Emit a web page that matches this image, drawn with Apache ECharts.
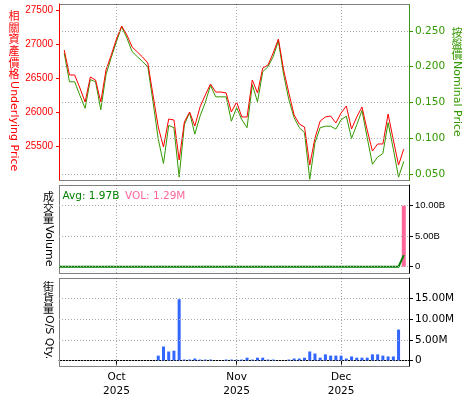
<!DOCTYPE html>
<html><head><meta charset="utf-8">
<script src="https://cdn.jsdelivr.net/npm/echarts@6/dist/echarts.min.js"></script>
<style>html,body{margin:0;padding:0;background:#fff}#c{width:475px;height:400px}</style>
</head><body><div id="c"></div>
<script>
// Trading (weekday) categories
const dates = [
 '2025-09-16','2025-09-17','2025-09-18','2025-09-19','2025-09-22','2025-09-23','2025-09-24','2025-09-25','2025-09-26','2025-09-29','2025-09-30',
 '2025-10-01','2025-10-02','2025-10-03','2025-10-06','2025-10-07','2025-10-08','2025-10-09','2025-10-10','2025-10-13','2025-10-14','2025-10-15','2025-10-16','2025-10-17','2025-10-20','2025-10-21','2025-10-22','2025-10-23','2025-10-24','2025-10-27','2025-10-28','2025-10-29','2025-10-30','2025-10-31',
 '2025-11-03','2025-11-04','2025-11-05','2025-11-06','2025-11-07','2025-11-10','2025-11-11','2025-11-12','2025-11-13','2025-11-14','2025-11-17','2025-11-18','2025-11-19','2025-11-20','2025-11-21','2025-11-24','2025-11-25','2025-11-26','2025-11-27','2025-11-28',
 '2025-12-01','2025-12-02','2025-12-03','2025-12-04','2025-12-05','2025-12-08','2025-12-09','2025-12-10','2025-12-11','2025-12-12','2025-12-15','2025-12-16','2025-12-17','2025-12-18'
];
// 相關資產價格 Underlying Price
const underlying = [
 null, 26915, 26549, 26549, 26359, 26154, 26520, 26476, 26154, 26622, 26842,
 27076, 27266, 27134, 26959, 26886, 26812, 26725, 26256, 25788, 25496, 25905, 25891, 25306, 25861, 26008, 25803, 26081, 26256, 26417, 26300, 26300, 26286, 26008,
 26154, 25935, 25935, 26476, 26286, 26651, 26695, 26871, 27076, 26622, 26286, 25964, 25832, 25788, 25232, 25627, 25876, 25935, 25949, 25847,
 25993, 26096, 25759, 25935, 26081, 25744, 25437, 25540, 25540, 25978, 25598, 25232, 25466, null
];
// 按盤價 Nominal Price
const nominal = [
 null, 0.219, 0.179, 0.179, 0.160, 0.142, 0.182, 0.179, 0.140, 0.189, 0.213,
 0.235, 0.256, 0.240, 0.221, 0.214, 0.207, 0.200, 0.151, 0.099, 0.065, 0.118, 0.115, 0.046, 0.119, 0.136, 0.106, 0.131, 0.150, 0.174, 0.158, 0.158, 0.158, 0.124,
 0.143, 0.126, 0.115, 0.175, 0.151, 0.193, 0.200, 0.214, 0.236, 0.189, 0.154, 0.129, 0.115, 0.108, 0.043, 0.094, 0.115, 0.117, 0.117, 0.113,
 0.126, 0.131, 0.100, 0.119, 0.139, 0.101, 0.064, 0.074, 0.079, 0.122, 0.085, 0.046, 0.068, null
];
// Avg turnover line (B)
const avgTurnover = [
 0,0,0,0,0,0,0,0,0,0,0,
 0,0,0,0,0,0,0,0,0,0,0,0,0,0,0,0,0,0,0,0,0,0,0,
 0,0,0,0,0,0,0,0,0,0,0,0,0,0,0,0,0,0,0,0,
 0,0,0,0,0,0,0,0,0,0,0,0,1.9,null
];
// 成交量 Volume bars (B)
const turnover = [
 null,null,null,null,null,null,null,null,null,null,null,
 null,null,null,null,null,null,null,null,null,null,null,null,null,null,null,null,null,null,null,null,null,null,null,
 null,null,null,null,null,null,null,null,null,null,null,null,null,null,null,null,null,null,null,null,
 null,null,null,null,null,null,null,null,null,null,null,null,10.0,null
];
// 街貨量 O/S Qty. (M)
const osQty = [
 null,null,null,null,null,null,null,null,null,null,null,
 null,null,null,null,null,null,null,null,1.2,3.4,2.2,2.4,14.85,0.25,0.25,0.5,0.25,0.25,0.25,null,null,0.25,0.25,
 0.2,0.25,0.7,0.25,0.7,0.7,0.25,0.25,null,null,0.25,0.5,0.5,0.7,2.2,1.7,0.7,1.5,1.2,1.2,
 1.2,0.5,1.0,0.7,0.7,0.7,1.5,1.5,1.2,1.0,1.0,7.5,null,null
];
const monthTicks = ['2025-10-01','2025-11-03','2025-12-01'];
const monthLabels = ['Oct\n2025','Nov\n2025','Dec\n2025'];
const priceTicks = [25500,26000,26500,27000,27500];
const nominalTicks = [0.05,0.10,0.15,0.20,0.25];
const volumeTicks = [0,5,10];
const osTicks = [0,5,10,15];

const L = 59, W = 350;
const panels = [{top:4,height:176},{top:185,height:88},{top:278,height:88}];
const RED = '#ff0000', GRN = '#339900';
const gridLine = {show:true, lineStyle:{color:'#aaaaaa', width:1, type:[1,2]}};
const isMonth = (i, v) => monthTicks.indexOf(v) >= 0;

function xAx(gi, showLabels){
  return {
    type:'category', gridIndex:gi, data:dates, boundaryGap:false,
    axisLine:{show:showLabels, lineStyle:{color:'#000', width:1}},
    axisTick:{show:showLabels, interval:isMonth, length:4, lineStyle:{color:'#000'}},
    axisLabel:{show:showLabels, interval:isMonth, margin:5, color:'#000', fontFamily:'DejaVu Sans', fontSize:10.5, lineHeight:13.5,
      formatter:(v)=>{const k=monthTicks.indexOf(v); return k>=0?monthLabels[k]:'';}},
    splitLine:{show:true, interval:isMonth, lineStyle:{color:'#aaaaaa', width:1, type:[1,2]}}
  };
}

const graphic = [];
panels.forEach(p => graphic.push({type:'rect', silent:true, z:1,
  shape:{x:L+0.5, y:p.top+0.5, width:W, height:p.height},
  style:{fill:null, stroke:'#000', lineWidth:1, lineDash:[1,1]}}));
function vTitle(x, y, cjk, latin, color, cjkPitch){
  cjk.split('').forEach((ch, k) => graphic.push({type:'text', silent:true, z:10, x:x, y:y + k*cjkPitch,
    style:{text:ch, fill:color, font:'11px "Noto Sans CJK TC"', textAlign:'center', textVerticalAlign:'top'}}));
  graphic.push({type:'text', silent:true, z:10, x:x, y:y + cjk.length*cjkPitch + 1, rotation:-Math.PI/2,
    style:{text:latin, fill:color, font:'11px "DejaVu Sans"', textAlign:'left', textVerticalAlign:'middle'}});
}
vTitle(14, 10.5, '相關資產價格', 'Underlying Price', RED, 11.6);
vTitle(457, 27, '按盤價', 'Nominal Price', GRN, 11);
vTitle(48.5, 191.5, '成交量', 'Volume', '#000', 11);
vTitle(48.5, 281, '街貨量', 'O/S Qty.', '#000', 11);
graphic.push({type:'text', silent:true, z:10, x:62.5, y:196, style:{text:'Avg: 1.97B', fill:'#008000', font:'10.5px "DejaVu Sans"', textAlign:'left', textVerticalAlign:'middle'}});
graphic.push({type:'text', silent:true, z:10, x:125, y:196, style:{text:'VOL: 1.29M', fill:'#ff6699', font:'10.5px "DejaVu Sans"', textAlign:'left', textVerticalAlign:'middle'}});

const option = {
  animation:false,
  backgroundColor:'#ffffff',
  grid: panels.map(p => ({left:L, width:W, top:p.top, height:p.height, containLabel:false})),
  xAxis:[xAx(0,false), xAx(1,false), xAx(2,true)],
  yAxis:[
    {type:'value', gridIndex:0, position:'left', min:25013, max:27588, z:5,
     axisLine:{show:true, lineStyle:{color:RED, width:1}},
     axisTick:{show:true, length:3, customValues:priceTicks, lineStyle:{color:RED}},
     axisLabel:{customValues:priceTicks, color:RED, fontFamily:'Liberation Sans', fontSize:10, margin:6, formatter:v=>String(v)},
     splitLine:{show:false}},
    {type:'value', gridIndex:0, position:'right', min:0.042, max:0.2875, z:5,
     axisLine:{show:true, lineStyle:{color:GRN, width:1, type:[1,1]}},
     axisTick:{show:true, length:4, customValues:nominalTicks, lineStyle:{color:GRN}},
     axisLabel:{customValues:nominalTicks, color:GRN, fontFamily:'DejaVu Sans', fontSize:10.5, margin:6, formatter:v=>v.toFixed(3)},
     splitLine:gridLine},
    {type:'value', gridIndex:1, position:'right', min:-1.03, max:13.39, z:5,
     axisLine:{show:true, lineStyle:{color:'#000', width:1}},
     axisTick:{show:true, length:4, customValues:volumeTicks, lineStyle:{color:'#000'}},
     axisLabel:{customValues:volumeTicks, color:'#000', fontFamily:'Liberation Sans', fontSize:9.5, margin:6, formatter:v=>v===0?'0':v.toFixed(2)+'B'},
     splitLine:gridLine},
    {type:'value', gridIndex:2, position:'right', min:-1.31, max:19.98, z:5,
     axisLine:{show:true, lineStyle:{color:'#000', width:1}},
     axisTick:{show:true, length:4, customValues:osTicks, lineStyle:{color:'#000'}},
     axisLabel:{customValues:osTicks, color:'#000', fontFamily:'DejaVu Sans', fontSize:10.5, margin:6, formatter:v=>v===0?'0':v.toFixed(2)+'M'},
     splitLine:gridLine}
  ],
  graphic: graphic,
  series:[
    {type:'line', name:'Nominal Price', xAxisIndex:0, yAxisIndex:1, data:nominal, symbol:'none', lineStyle:{color:GRN, width:1}, itemStyle:{color:GRN}, z:3},
    {type:'line', name:'Underlying Price', xAxisIndex:0, yAxisIndex:0, data:underlying, symbol:'none', lineStyle:{color:RED, width:1}, itemStyle:{color:RED}, z:4},
    {type:'bar', name:'VOL', xAxisIndex:1, yAxisIndex:2, data:turnover, barWidth:4, itemStyle:{color:'#ff6699'}, z:3},
    {type:'line', name:'Avg', xAxisIndex:1, yAxisIndex:2, data:avgTurnover, symbol:'none', lineStyle:{color:'#008000', width:2}, itemStyle:{color:'#008000'}, z:4},
    {type:'bar', name:'O/S Qty.', xAxisIndex:2, yAxisIndex:3, data:osQty, barWidth:3, itemStyle:{color:'#3366ff'}, z:3}
  ]
};
const chart = echarts.init(document.getElementById('c'), null, {renderer:'canvas'});
chart.setOption(option);
</script>
</body></html>
